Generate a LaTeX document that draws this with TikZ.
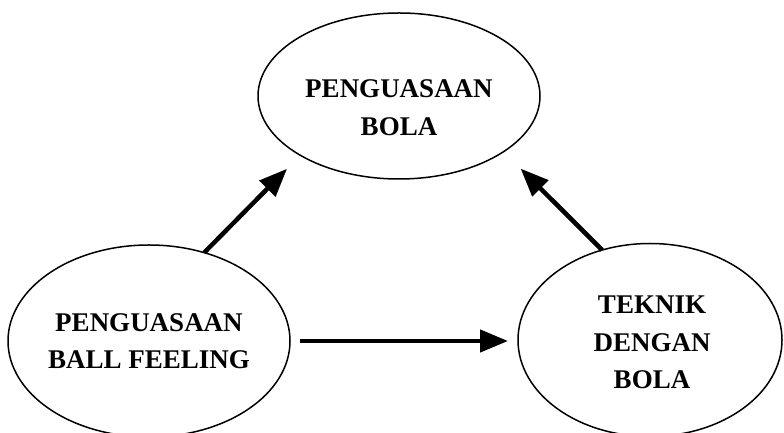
\documentclass[tikz,border=0pt]{standalone}
\usepackage{fontspec}
\setmainfont{Liberation Serif}
\usetikzlibrary{arrows.meta,shapes.geometric}
\tikzset{
  oval/.style={ellipse,draw,line width=1.5pt,inner sep=0pt,outer sep=0pt},
  txt/.style={align=center,font=\bfseries\fontsize{27}{37.5}\selectfont}
}

\begin{document}
\begin{tikzpicture}[line join=round,>={Triangle[length=28pt,width=22pt]},x=1pt,y=1pt]
    \useasboundingbox (0,0) rectangle (784,433);
    \clip (0,0) rectangle (784,433);
    \node[oval,minimum width=282pt,minimum height=166pt] (B) at (399,337)
        [label={[txt,yshift=-11.5pt]center:{PENGUASAAN\\BOLA}}] {};
    \node[oval,minimum width=282pt,minimum height=192pt] (F) at (149,92)
        [label={[txt]center:{PENGUASAAN\\BALL FEELING}}] {};
    \node[oval,minimum width=264pt,minimum height=193pt] (T) at (650,93)
        [label={[txt,xshift=2pt,yshift=-2.5pt]center:{TEKNIK\\DENGAN\\BOLA}}] {};

    % Arrows
    \foreach \source/\target/\cut in {F.58/B.211/19, T.118/B.332/24} {
            \draw[->, line width=4.5pt, shorten >=\cut pt] (\source) -- (\target);
        }
    \draw[->, line width=4.5pt, shorten <=10pt, shorten >=10pt] (F.east) -- (F.east -| T.west);
\end{tikzpicture}
\end{document}
